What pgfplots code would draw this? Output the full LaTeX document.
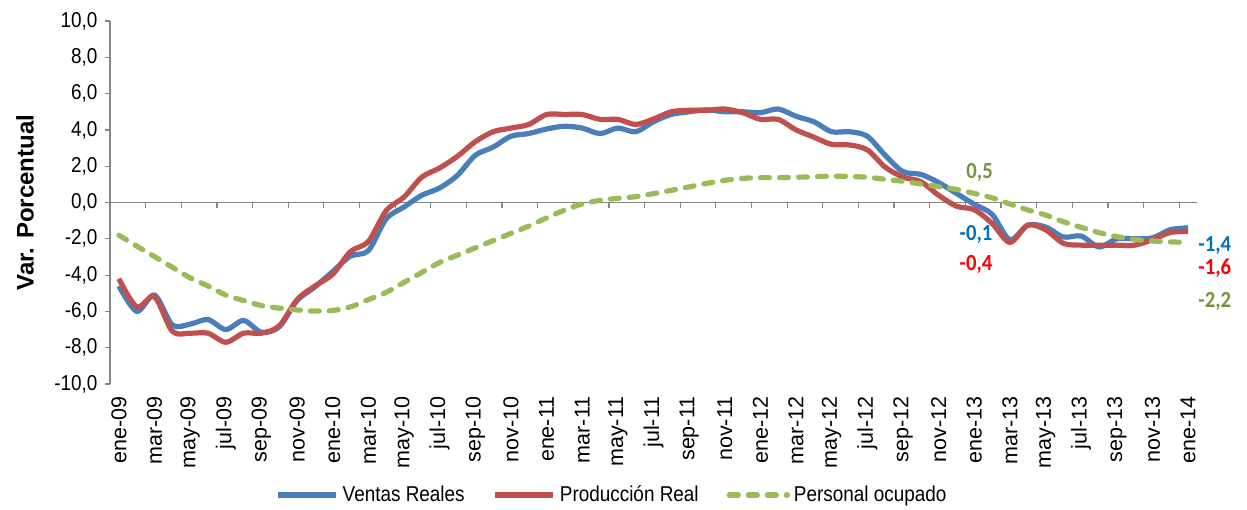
\documentclass[border=0pt]{standalone}
\usepackage{pgfplots}
\pgfplotsset{compat=1.18}
\usepackage{pgfplotstable}
\usepackage{fontspec}
\setmainfont{Liberation Sans}[FakeStretch=0.88]
\newfontfamily\plainfont{Liberation Sans}
\newfontfamily\calib{Carlito}[FakeStretch=0.9]
\definecolor{cblue}{HTML}{4A7EBB}
\definecolor{cred}{HTML}{C0504D}
\definecolor{cgreen}{HTML}{9BBB59}
\definecolor{lblue}{HTML}{0070C0}
\definecolor{lred}{HTML}{FF0000}
\definecolor{lolive}{HTML}{77933C}
\definecolor{axgray}{RGB}{134,134,134}

\pgfplotstableread{
m ventas prod pers
0 -4.6 -4.2 -1.8
1 -6.0 -5.75 -2.4
2 -5.1 -5.2 -2.98
3 -6.75 -7.1 -3.57
4 -6.7 -7.2 -4.15
5 -6.45 -7.2 -4.6
6 -7.0 -7.7 -5.1
7 -6.5 -7.2 -5.4
8 -7.15 -7.2 -5.68
9 -6.85 -6.8 -5.82
10 -5.4 -5.35 -5.92
11 -4.65 -4.6 -5.98
12 -3.8 -3.95 -5.95
13 -2.95 -2.7 -5.75
14 -2.65 -2.15 -5.35
15 -0.9 -0.45 -4.95
16 -0.25 0.3 -4.4
17 0.4 1.4 -3.85
18 0.8 1.9 -3.3
19 1.5 2.55 -2.9
20 2.6 3.35 -2.5
21 3.05 3.9 -2.1
22 3.65 4.1 -1.7
23 3.8 4.3 -1.3
24 4.05 4.85 -0.85
25 4.2 4.85 -0.42
26 4.1 4.85 -0.08
27 3.8 4.58 0.12
28 4.1 4.58 0.23
29 3.9 4.3 0.32
30 4.45 4.6 0.49
31 4.85 5.0 0.67
32 5.0 5.08 0.86
33 5.1 5.08 1.06
34 5.0 5.15 1.22
35 5.0 4.95 1.33
36 4.95 4.58 1.37
37 5.15 4.58 1.37
38 4.75 4.0 1.39
39 4.45 3.6 1.42
40 3.9 3.2 1.45
41 3.9 3.17 1.44
42 3.65 2.9 1.39
43 2.6 1.95 1.28
44 1.7 1.4 1.17
45 1.55 1.15 1.02
46 1.1 0.4 0.87
47 0.5 -0.2 0.72
48 -0.1 -0.4 0.5
49 -0.65 -1.15 0.26
50 -2.05 -2.2 -0.08
51 -1.25 -1.25 -0.41
52 -1.35 -1.5 -0.69
53 -1.9 -2.25 -1.06
54 -1.85 -2.35 -1.37
55 -2.45 -2.35 -1.66
56 -2.0 -2.35 -1.88
57 -2.0 -2.35 -2.03
58 -1.95 -2.05 -2.12
59 -1.5 -1.65 -2.17
60 -1.4 -1.6 -2.2
}\datatable

\begin{document}
\fontsize{10.75pt}{13pt}\selectfont
\begin{tikzpicture}
\useasboundingbox (-55pt,-62.5pt) rectangle (568.5pt,192pt);
\begin{axis}[
  scale only axis,
  width=543.5pt, height=181.5pt,
  xmin=-0.5, xmax=60.5,
  ymin=-10, ymax=10,
  clip=false,
  axis lines*=left,
  x axis line style={draw=none},
  y axis line style={draw=axgray, line width=0.6pt},
  ytick={-10,-8,...,10},
  ytick style={draw=axgray, line width=0.6pt},
  tick align=outside,
  major tick length=2.5pt,
  xtick={0,2,...,60},
  xtick style={draw=none},
  xticklabels={ene-09,mar-09,may-09,jul-09,sep-09,nov-09,
               ene-10,mar-10,may-10,jul-10,sep-10,nov-10,
               ene-11,mar-11,may-11,jul-11,sep-11,nov-11,
               ene-12,mar-12,may-12,jul-12,sep-12,nov-12,
               ene-13,mar-13,may-13,jul-13,sep-13,nov-13,ene-14},
  xticklabel style={rotate=90, anchor=east, font=\plainfont},
  /pgf/number format/.cd, fixed, fixed zerofill, precision=1, use comma, 1000 sep={}, assume math mode=true,
  /pgfplots/.cd,
  legend style={at={(axis description cs:0.4627,-0.3058)}, anchor=center, draw=none,
    /tikz/every even column/.append style={column sep=12pt}},
  legend columns=3,
  legend image code/.code={\draw[#1] (0pt,0pt) -- (29pt,0pt);},
]
\draw[axgray, line width=0.6pt] (axis cs:-0.5,0) -- (axis cs:60.5,0);
\pgfplotsinvokeforeach{-0.5,1.5,...,59.5}{\draw[axgray, line width=0.6pt] (axis cs:#1,0) -- ([yshift=-2.5pt]axis cs:#1,0);}
\addplot[cblue, line width=2.6pt, smooth, tension=0.5] table[x=m, y=ventas] {\datatable};
\addlegendentry{Ventas Reales}
\addplot[cred, line width=2.6pt, smooth, tension=0.5] table[x=m, y=prod] {\datatable};
\addlegendentry{Producción Real}
\addplot[cgreen, line width=2.6pt, smooth, tension=0.5, line cap=round, dash pattern=on 4.5pt off 5pt] table[x=m, y=pers] {\datatable};
\addlegendentry{Personal ocupado}
\tikzset{dlab/.style={font=\calib\bfseries\fontsize{11.5pt}{13pt}\selectfont}}
\node[dlab, text=lolive] at (axis cs:48.3,1.63) {0,5};
\node[dlab, text=lblue] at (axis cs:48.1,-1.79) {-0,1};
\node[dlab, text=lred] at (axis cs:48.1,-3.44) {-0,4};
\node[dlab, text=lblue] at (axis cs:61.5,-2.4) {-1,4};
\node[dlab, text=lred] at (axis cs:61.5,-3.6) {-1,6};
\node[dlab, text=lolive] at (axis cs:61.5,-5.43) {-2,2};
\end{axis}
\node[rotate=90, font=\plainfont\bfseries\fontsize{12pt}{14pt}\selectfont] at (-42.5pt,90.75pt) {Var. Porcentual};
\end{tikzpicture}
\end{document}
